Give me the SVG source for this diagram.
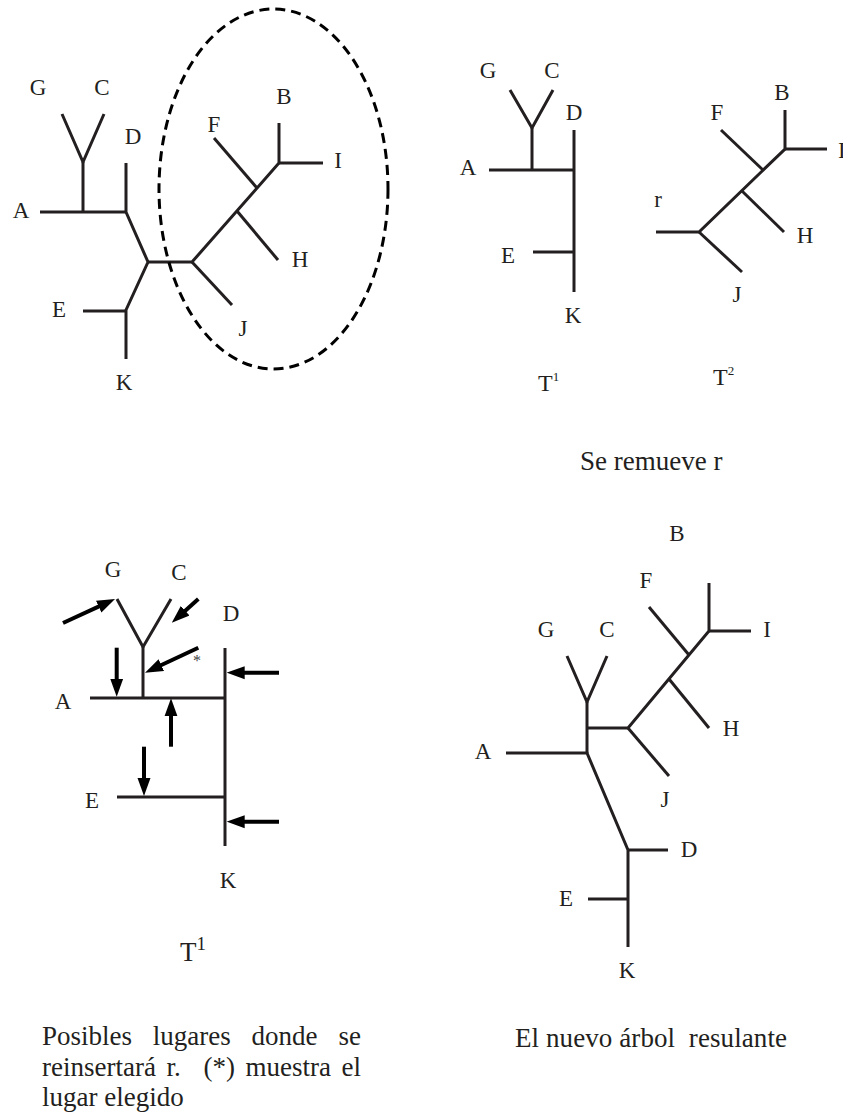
<svg xmlns="http://www.w3.org/2000/svg" width="843" height="1112" viewBox="0 0 843 1112">
<style>
.e{fill:none;stroke:#231f20;stroke-width:3;stroke-linecap:butt;stroke-linejoin:miter}
.ar{fill:none;stroke:#000;stroke-width:4;marker-end:url(#ah)}
.l{font-family:"Liberation Serif","Times New Roman",serif;font-size:23px;fill:#231f20;text-anchor:middle}
.cap{font-family:"Liberation Serif","Times New Roman",serif;font-size:27px;fill:#231f20}
.tl{font-family:"Liberation Serif","Times New Roman",serif;font-size:24px;fill:#231f20}
.sup{font-size:13px}
</style>
<defs>
<marker id="ah" markerUnits="userSpaceOnUse" markerWidth="18" markerHeight="14" viewBox="0 -7 18 14" refX="4" refY="0" orient="auto">
<path d="M0,-6.5 L18,0 L0,6.5 z" fill="#000"/>
</marker>
</defs>
<rect width="843" height="1112" fill="#fff"/>

<!-- Panel 1: original tree -->
<g id="edges-tree">
<polyline class="e" points="40,212 126,212"/>
<polyline class="e" points="62,114 83,162 104,114"/>
<polyline class="e" points="83,162 83,212"/>
<polyline class="e" points="126,163 126,212 148,262 126,310 126,359"/>
<polyline class="e" points="83,311 126,311"/>
<polyline class="e" points="148,262 192,262 279,163 279,123"/>
<polyline class="e" points="279,163 323,163"/>
<polyline class="e" points="192,262 232,305"/>
<polyline class="e" points="237,211 278,260"/>
<polyline class="e" points="257,188 214,138"/>
</g>
<ellipse id="subtree-circle" cx="273.5" cy="189" rx="114.5" ry="180" fill="none" stroke="#000" stroke-width="3" stroke-dasharray="10 6"/>
<g id="p1-G"><text class="l" x="38" y="95">G</text></g>
<g id="p1-C"><text class="l" x="102" y="95">C</text></g>
<g id="p1-D"><text class="l" x="133" y="144">D</text></g>
<g id="p1-A"><text class="l" x="21" y="218">A</text></g>
<g id="p1-E"><text class="l" x="59" y="317">E</text></g>
<g id="p1-K"><text class="l" x="124" y="390">K</text></g>
<g id="p1-F"><text class="l" x="214" y="132">F</text></g>
<g id="p1-B"><text class="l" x="284" y="104">B</text></g>
<g id="p1-I"><text class="l" x="338" y="168">I</text></g>
<g id="p1-H"><text class="l" x="300" y="267">H</text></g>
<g id="p1-J"><text class="l" x="243" y="336">J</text></g>

<!-- Panel 2: T1 and T2 -->
<g id="edges-T1">
<polyline class="e" points="510,90 532,128 553,90"/>
<polyline class="e" points="532,128 532,170"/>
<polyline class="e" points="489,170 574,170"/>
<polyline class="e" points="574,130 574,292"/>
<polyline class="e" points="533,252 574,252"/>
</g>
<g id="edges-T2">
<polyline class="e" points="656,232 699,232 785,149 785,110"/>
<polyline class="e" points="699,232 742,272"/>
<polyline class="e" points="742,191 784,232"/>
<polyline class="e" points="763,170 721,130"/>
<polyline class="e" points="785,149 827,149"/>
</g>
<g id="p2-G"><text class="l" x="488" y="78">G</text></g>
<g id="p2-C"><text class="l" x="552" y="78">C</text></g>
<g id="p2-D"><text class="l" x="574" y="120">D</text></g>
<g id="p2-A"><text class="l" x="468" y="175">A</text></g>
<g id="p2-E"><text class="l" x="508" y="263">E</text></g>
<g id="p2-K"><text class="l" x="573" y="323">K</text></g>
<g id="p2-r"><text class="l" x="658" y="207">r</text></g>
<g id="p2-F"><text class="l" x="717" y="120">F</text></g>
<g id="p2-B"><text class="l" x="782" y="100">B</text></g>
<g id="p2-I"><text class="l" x="838" y="158" style="text-anchor:start">I</text></g>
<g id="p2-H"><text class="l" x="805" y="243">H</text></g>
<g id="p2-J"><text class="l" x="737" y="302">J</text></g>
<g id="label-T1"><text class="tl" x="538" y="391">T<tspan class="sup" dy="-10">1</tspan></text></g>
<g id="label-T2"><text class="tl" x="713" y="385">T<tspan class="sup" dy="-10">2</tspan></text></g>
<g id="caption-remueve"><text class="cap" x="580" y="470">Se remueve r</text></g>

<!-- Panel 3: insertion points -->
<g id="edges-T1b">
<polyline class="e" points="117,599 143,647 171,599"/>
<polyline class="e" points="143,647 143,697"/>
<polyline class="e" points="90,698 225,698"/>
<polyline class="e" points="225,648 225,846"/>
<polyline class="e" points="117,797 225,797"/>
</g>
<g id="arrows">
<line class="ar" x1="63" y1="623" x2="102.3" y2="604.9"/>
<line class="ar" x1="198.3" y1="599" x2="182.2" y2="613.4"/>
<line class="ar" x1="198.3" y1="647.7" x2="157.7" y2="666.8"/>
<line class="ar" x1="116.7" y1="647.7" x2="116.7" y2="682.7"/>
<line class="ar" x1="171" y1="746.7" x2="171" y2="712.3"/>
<line class="ar" x1="144" y1="746.7" x2="144" y2="782"/>
<line class="ar" x1="279" y1="672.7" x2="240.7" y2="672.7"/>
<line class="ar" x1="279" y1="821.7" x2="240.7" y2="821.7"/>
</g>
<g id="p3-star"><text class="l" x="197" y="666" style="font-size:16px;fill:#444">*</text></g>
<g id="p3-G"><text class="l" x="113" y="577">G</text></g>
<g id="p3-C"><text class="l" x="179" y="580">C</text></g>
<g id="p3-D"><text class="l" x="231" y="621">D</text></g>
<g id="p3-A"><text class="l" x="63" y="709">A</text></g>
<g id="p3-E"><text class="l" x="92" y="808">E</text></g>
<g id="p3-K"><text class="l" x="228" y="888">K</text></g>
<g id="label-T1b"><text class="cap" x="180" y="961">T<tspan style="font-size:19px" dy="-11">1</tspan></text></g>
<g id="caption-left" class="cap">
<text x="42" y="1045">Posibles</text>
<text x="152.8" y="1045">lugares</text>
<text x="251.6" y="1045">donde</text>
<text x="361" y="1045" text-anchor="end">se</text>
<text x="42" y="1076">reinsertará</text>
<text x="166.6" y="1076">r.</text>
<text x="203.4" y="1076">(*)</text>
<text x="245.5" y="1076">muestra</text>
<text x="361" y="1076" text-anchor="end">el</text>
<text x="42" y="1106">lugar elegido</text>
</g>

<!-- Panel 4: new tree -->
<g id="edges-new">
<polyline class="e" points="709,583 709,631 628,728 587,728"/>
<polyline class="e" points="709,631 751,631"/>
<polyline class="e" points="689,655 649,607"/>
<polyline class="e" points="669,679 709,728"/>
<polyline class="e" points="628,728 669,776"/>
<polyline class="e" points="567,656 587,702 607,656"/>
<polyline class="e" points="587,702 587,753"/>
<polyline class="e" points="506,753 587,753 628,850 628,947"/>
<polyline class="e" points="628,850 668,850"/>
<polyline class="e" points="588,899 628,899"/>
</g>
<g id="p4-B"><text class="l" x="677" y="541">B</text></g>
<g id="p4-F"><text class="l" x="646" y="588">F</text></g>
<g id="p4-I"><text class="l" x="767" y="637">I</text></g>
<g id="p4-G"><text class="l" x="546" y="637">G</text></g>
<g id="p4-C"><text class="l" x="607" y="637">C</text></g>
<g id="p4-H"><text class="l" x="731" y="736">H</text></g>
<g id="p4-A"><text class="l" x="483" y="759">A</text></g>
<g id="p4-J"><text class="l" x="665" y="807">J</text></g>
<g id="p4-D"><text class="l" x="689" y="857">D</text></g>
<g id="p4-E"><text class="l" x="566" y="906">E</text></g>
<g id="p4-K"><text class="l" x="627" y="978">K</text></g>
<g id="caption-right"><text class="cap" x="515" y="1047" textLength="272" lengthAdjust="spacing" xml:space="preserve">El nuevo árbol  resulante</text></g>
</svg>
